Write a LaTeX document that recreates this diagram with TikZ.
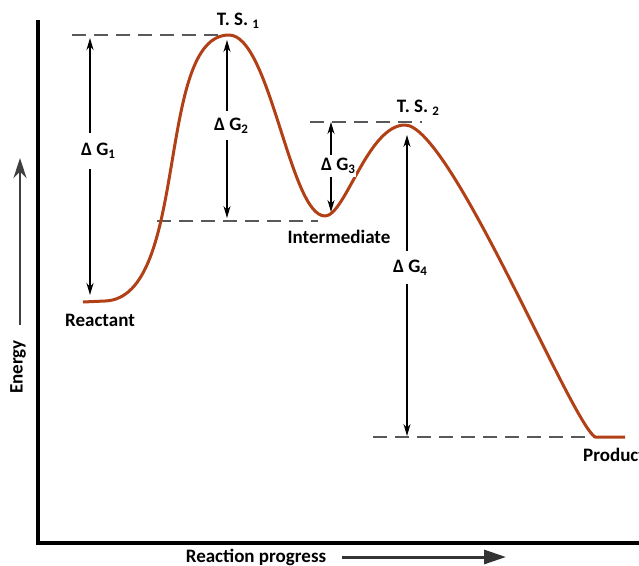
\documentclass[tikz,border=0pt]{standalone}
\usepackage{fontspec}
\setmainfont{Carlito}
\usepackage{tikz}
\usetikzlibrary{arrows.meta}
\definecolor{curvebrown}{RGB}{178,64,22}
\newcommand{\lowsub}[1]{\raisebox{-0.3ex}{\fontsize{13}{13}\selectfont #1}}

\begin{document}
\begin{tikzpicture}[x=1pt,y=-1pt,font=\fontsize{19}{22}\selectfont\bfseries]
  \tikzset{energy curve/.style={draw=curvebrown,line width=3pt,line join=round},
    level line/.style={draw=black!65,line width=1.2pt,dash pattern=on 14pt off 8pt},
    gap arrow/.style={{Stealth[length=12pt,width=7pt]}-{Stealth[length=12pt,width=7pt]},line width=1.3pt},
    gap label/.style={fill=white,inner xsep=1pt,inner ysep=7pt},
    axis line/.style={line width=3.5pt}}
  \useasboundingbox (0,0) rectangle (639,565);
  % axes
  \coordinate (ytop) at (38,20);
  \coordinate (origin) at (38,543);
  \coordinate (xend) at (639,543);
  \draw[axis line] (ytop) -- (origin) -- (xend);
  \coordinate (entail) at (20,325);
  \coordinate (entip) at (20,158);
  \draw[-{Stealth[length=20pt,width=13pt]},draw=black!75,line width=2.2pt] (entail) -- (entip);
  \node[rotate=90](energy) at (18,367) {Energy};
  \node(progress) at (256,557) {Reaction progress};
  \coordinate (progend) at (506,557);
  \draw[-{Triangle[length=22pt,width=14pt]},draw=black!80,line width=3pt] ([xshift=12pt]progress.east) -- (progend);
  % stationary points
  \coordinate (r0) at (83,302);
  \coordinate (r1) at (105,301);
  \coordinate (ts1) at (229,35);
  \coordinate (inter) at (325,216);
  \coordinate (ts2) at (405,125);
  \coordinate (p0) at (595,437);
  \coordinate (p1) at (625,437);
  % dashed levels
  \coordinate (l1) at (72,35);
  \coordinate (l2a) at (157,221);
  \coordinate (l2b) at (318,221);
  \coordinate (l3a) at (310,122);
  \coordinate (l3b) at (422,122);
  \coordinate (l4) at (373,437);
  \draw[level line] (l1) -- (ts1);
  \draw[level line] (l2a) -- (l2b);
  \draw[level line] (l3a) -- (l3b);
  \draw[level line] (l4) -- (p0);
  \draw[energy curve] (r0) -- (r1) .. controls (190,298) and (155,35) .. (ts1)
    .. controls (270,35) and (290,216) .. (inter)
    .. controls (345,216) and (368,125) .. (ts2)
    .. controls (450,125) and (570,420) .. (p0) -- (p1);
  % gaps
  \coordinate (g1t) at (90,38);
  \coordinate (g1b) at (90,295);
  \coordinate (g2t) at (227,40);
  \coordinate (g2b) at (227,218);
  \coordinate (g3t) at (331,122);
  \coordinate (g3b) at (331,212);
  \coordinate (g4t) at (407,135);
  \coordinate (g4b) at (407,436);
  \draw[gap arrow,line width=2.2pt] (g1t) -- node[gap label,pos=0.44,xshift=8pt,inner ysep=10pt] {Δ G\lowsub{1}} (g1b);
  \draw[gap arrow] (g2t) -- node[gap label,pos=0.48,xshift=4pt] {Δ G\lowsub{2}} (g2b);
  \draw[gap arrow] (g3t) -- node[gap label,pos=0.49,xshift=7pt,inner ysep=3pt] {Δ G\lowsub{3}} (g3b);
  \draw[gap arrow] (g4t) -- node[gap label,pos=0.44,xshift=3pt,inner ysep=9pt] {Δ G\lowsub{4}} (g4b);
  % labels
  \node(ts1lbl) at (238,21) {T. S. \lowsub{1}};
  \node(ts2lbl) at (418,108) {T. S. \lowsub{2}};
  \node(interlbl) at (339,237) {Intermediate};
  \node(reaclbl) at (100,320) {Reactant};
  \node[anchor=west,inner sep=0pt](prodlbl) at (583,455) {Product};
\end{tikzpicture}
\end{document}
